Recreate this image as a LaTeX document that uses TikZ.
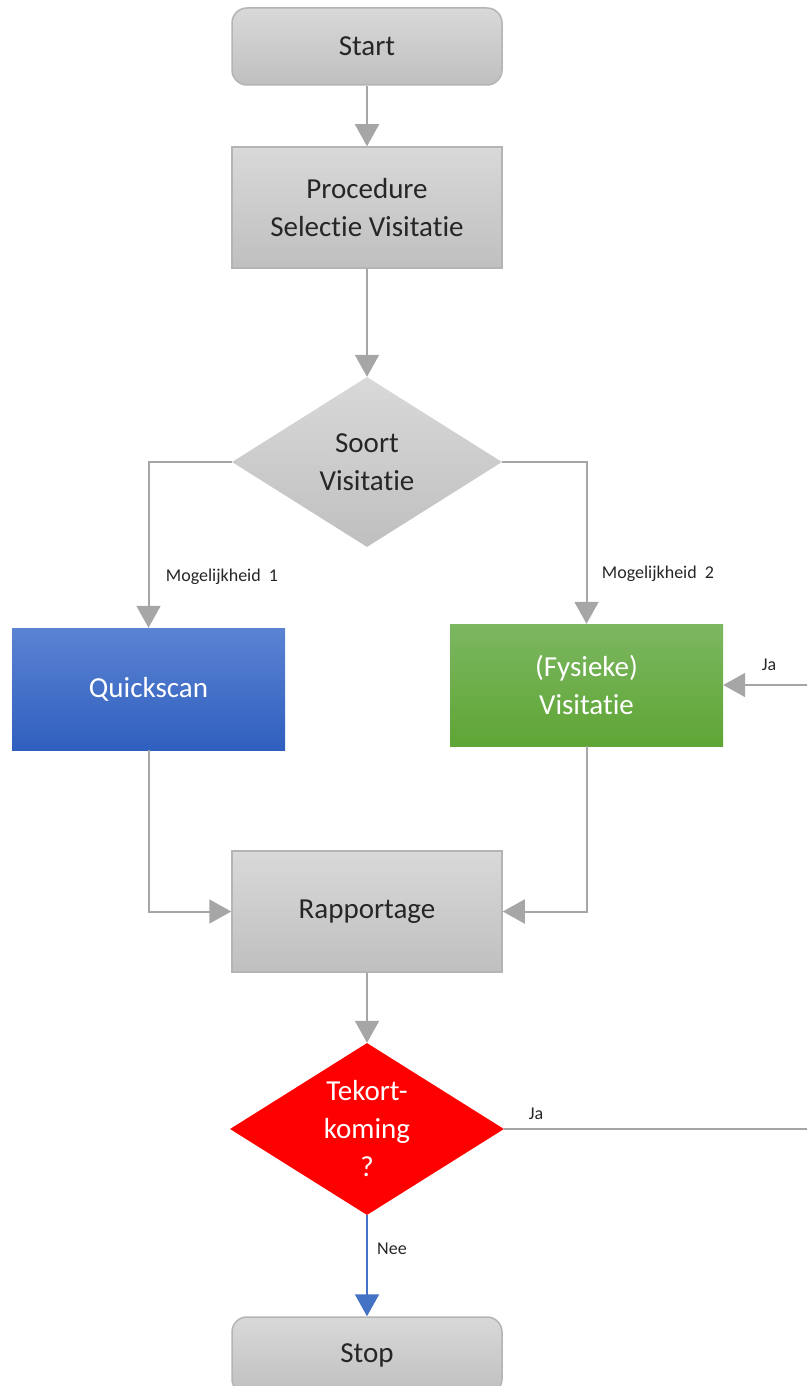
\documentclass[tikz,border=0pt]{standalone}
\usepackage{fontspec}
\setmainfont[Ligatures=NoCommon]{Carlito}
\usetikzlibrary{arrows.meta,shapes.geometric}
\definecolor{lineg}{HTML}{A6A6A6}
\definecolor{bordg}{HTML}{B4B4B4}
\definecolor{txtd}{HTML}{262626}
\definecolor{nblue}{HTML}{4472C4}
\definecolor{bluetop}{HTML}{5B83D3}
\definecolor{bluebot}{HTML}{2F5FBE}
\definecolor{greentop}{HTML}{7CB761}
\definecolor{greenbot}{HTML}{5FA535}
\tikzset{
  big/.style={font=\fontsize{29}{38}\selectfont, align=center},
  small/.style={font=\fontsize{18}{21}\selectfont, text=txtd, inner sep=0pt},
  greybox/.style={big, draw=bordg, line width=1.5pt, top color=black!15, bottom color=black!25, text=txtd, minimum width=270pt, minimum height=121pt, inner sep=0pt},
  termbox/.style={greybox, rounded corners=15pt, minimum height=77pt},
  bluebox/.style={big, draw=none, top color=bluetop, bottom color=bluebot, text=white, minimum width=273pt, minimum height=122pt, inner sep=0pt},
  greenbox/.style={big, draw=none, top color=greentop, bottom color=greenbot, text=white, minimum width=273pt, minimum height=122pt, inner sep=0pt},
  decision/.style={big, diamond, inner sep=0pt, shape aspect=1.58},
  conn/.style={draw=lineg, line width=2pt, -{Triangle[width=24pt,length=22pt]}, color=lineg},
  noconn/.style={draw=nblue, line width=2pt, -{Triangle[width=24pt,length=22pt]}, color=nblue},
}
\begin{document}
\begin{tikzpicture}[x=1pt,y=-1pt]
\clip (0,0) rectangle (807,1386);
\useasboundingbox (0,0) rectangle (807,1386);
\node[termbox] (start) at (367,46.5) {Start};
\node[greybox] (proc) at (367,207.5) {Procedure\\Selectie Visitatie};
\node[decision, top color=black!15, bottom color=black!25, text=txtd, minimum width=270pt, minimum height=170pt] (soort) at (367,462) {Soort\\Visitatie};
\node[bluebox] (quick) at (148.5,689) {Quickscan};
\node[greenbox] (fys) at (586.5,685) {(Fysieke)\\Visitatie};
\node[greybox] (rapp) at (367,911.5) {Rapportage};
\node[decision, fill=red, text=white, minimum width=274pt, minimum height=172pt] (tek) at (367,1129) {Tekort-\\koming\\?};
\node[termbox] (stop) at (367,1355.5) {Stop};

\draw[conn] (start) -- (proc);
\draw[conn] (proc) -- (soort);
\draw[conn] (soort.west) -| (quick.north);
\draw[conn] (soort.east) -| (fys.north);
\draw[conn] (quick.south) |- (rapp.west);
\draw[conn] (fys.south) |- (rapp.east);
\draw[conn] (rapp) -- (tek);
\coordinate (loop) at (840,1129);
\draw[conn] (tek.east) -- (loop) |- (fys.east);
\draw[noconn] (tek.south) -- (stop.north);

\node[small] (m1) at (222,577) {Mogelijkheid\ \ 1};
\node[small] (m2) at (658,574) {Mogelijkheid\ \ 2};
\node[small] (ja1) at (769,665) {Ja};
\node[small] (ja2) at (536,1114) {Ja};
\node[small] (nee) at (392,1249) {Nee};
\end{tikzpicture}
\end{document}
